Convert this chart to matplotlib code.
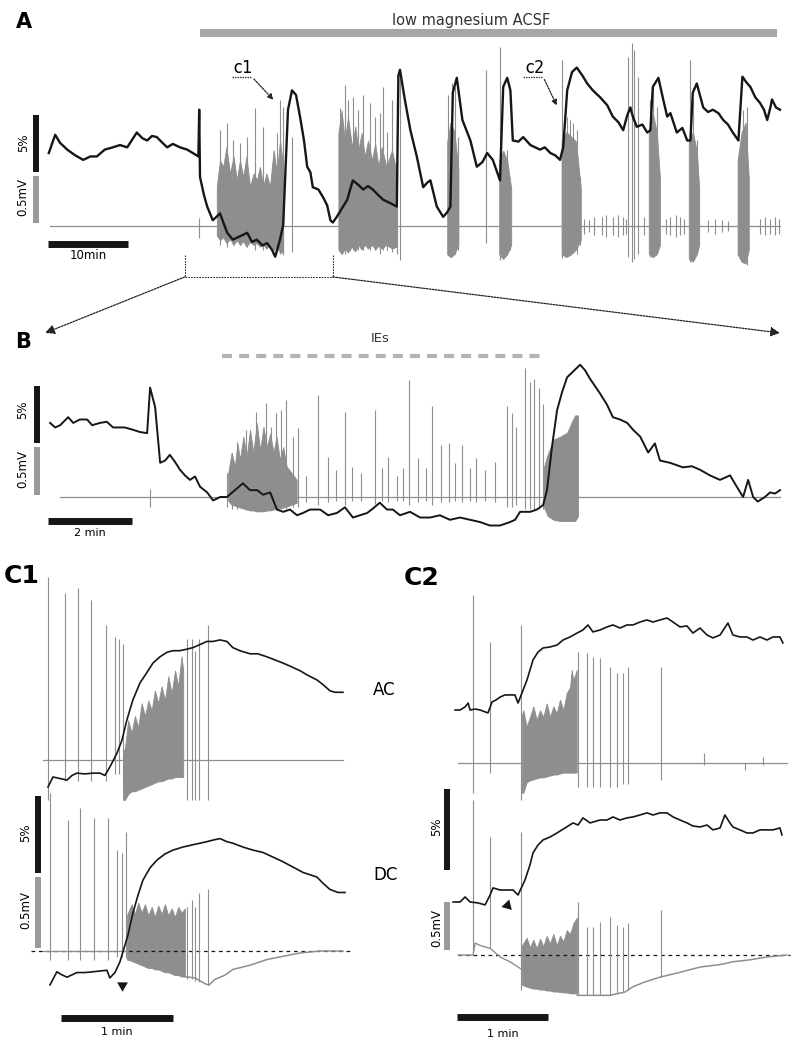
import numpy as np
import matplotlib.pyplot as plt
from matplotlib.patches import ConnectionPatch

# ── colours ────────────────────────────────────────────────
BLACK = "#161616"
GREY = "#8e8e8e"
BAR_GREY = "#a6a6a6"

# ── Panel A: whole recording (t in min, black = %, grey = mV) ──
A_black_t = [0.1, 0.9, 1.5, 2.4, 3.4, 4.4, 5.3, 6.1, 7.1, 8.1,
             9.0, 9.9, 11.1, 11.8, 12.4, 13.0, 13.6, 14.3, 14.9, 15.6,
             16.5, 17.4, 18.1, 18.8, 18.9, 19.0, 19.5, 19.9, 20.6, 21.5,
             22.4, 23.1, 24.0, 24.9, 25.5, 26.1, 26.8, 27.4, 28.0, 28.4,
             29.0, 29.4, 29.6, 30.0, 30.5, 31.0, 31.5, 32.0, 32.4, 32.8,
             33.1, 33.8, 34.4, 34.9, 35.3, 35.6, 36.1, 36.8, 37.4, 38.1,
             38.8, 39.4, 40.0, 40.6, 41.3, 41.9, 42.8, 43.6, 43.8, 44.0,
             44.6, 45.3, 46.1, 46.9, 47.4, 47.8, 48.6, 49.4, 49.9, 50.3,
             50.6, 51.1, 51.8, 52.8, 53.6, 54.3, 54.9, 55.6, 56.5, 56.9,
             57.4, 57.8, 58.1, 58.8, 59.4, 60.3, 61.5, 62.1, 62.8, 63.4,
             64.0, 64.4, 64.9, 65.5, 66.1, 66.8, 67.4, 68.1, 69.0, 69.9,
             70.6, 71.3, 71.9, 72.4, 72.8, 73.1, 73.6, 74.3, 74.9, 75.3,
             75.6, 76.3, 76.9, 77.4, 77.8, 78.6, 79.3, 79.9, 80.3, 80.6,
             81.1, 81.9, 82.5, 83.1, 83.8, 84.4, 85.0, 85.6, 86.3, 86.8,
             87.3, 87.8, 88.4, 89.0, 89.5, 89.9, 90.3, 90.5, 91.0, 91.5]
A_black_v = [6.4, 8.0, 7.3, 6.7, 6.2, 5.8, 6.1, 6.1, 6.7, 6.9,
             7.1, 6.9, 8.2, 7.7, 7.5, 7.9, 7.8, 7.3, 6.9, 7.2,
             6.9, 6.7, 6.4, 6.1, 10.2, 4.3, 2.7, 1.7, 0.5, 1.1,
             -0.6, -1.2, -0.9, -0.6, -1.4, -1.2, -1.7, -1.5, -2.1, -2.7,
             -1.2, 0.1, 3.4, 10.2, 11.9, 11.5, 9.6, 7.5, 5.2, 4.7,
             3.4, 3.2, 2.5, 1.8, 0.5, 0.3, 0.8, 1.6, 2.3, 4.0,
             3.6, 3.2, 3.5, 3.2, 2.7, 2.3, 2.0, 1.7, 13.2, 13.7,
             11.1, 8.4, 6.1, 3.4, 3.8, 4.0, 1.7, 0.8, 1.2, 1.7,
             11.7, 13.0, 9.3, 7.5, 5.2, 5.6, 6.4, 5.8, 4.0, 12.2,
             13.0, 11.9, 7.5, 7.4, 7.8, 7.1, 6.7, 6.9, 6.4, 6.2,
             5.8, 6.9, 11.9, 13.5, 13.9, 13.2, 12.5, 11.9, 11.3, 10.6,
             9.6, 9.1, 8.4, 9.7, 10.4, 9.6, 8.7, 8.9, 8.2, 8.4,
             12.2, 13.0, 11.1, 9.6, 9.9, 8.2, 8.6, 7.5, 7.5, 11.7,
             12.5, 10.4, 10.0, 10.2, 9.9, 9.3, 8.9, 8.2, 7.5, 13.1,
             12.6, 12.2, 11.3, 10.8, 10.2, 9.3, 10.4, 11.1, 10.4, 10.2]

A_base_t = [0.25, 91.5]
A_base_v = [0.0, 0.0]

A_spike_t = [18.9, 21.5, 22.4, 23.1, 24.0, 24.9, 25.9, 26.9, 28.6, 29.0,
             29.4, 30.5, 36.5, 37.1, 37.5, 38.1, 38.8, 39.4, 40.3, 40.9,
             41.5, 41.9, 42.4, 43.0, 43.6, 44.0, 50.0, 50.5, 50.9, 51.3,
             54.8, 56.5, 56.9, 57.4, 57.8, 64.3, 64.9, 65.3, 65.6, 66.1,
             66.5, 72.5, 73.0, 73.3, 73.8, 75.3, 75.6, 76.1, 80.3, 80.6,
             81.1, 86.5, 86.9, 87.4]
A_spike_top = [0.09, 1.02, 1.10, 0.91, 0.88, 0.95, 1.26, 1.05, 0.99, 1.34,
               1.27, 0.95, 1.26, 1.50, 1.34, 1.37, 1.23, 1.39, 1.31, 1.16,
               1.20, 1.48, 1.00, 1.34, 1.45, 1.63, 1.39, 1.52, 1.48, 0.95,
               1.66, 1.90, 0.63, 0.81, 0.41, 1.77, 1.16, 1.13, 1.10, 1.02,
               0.52, 1.80, 1.95, 1.87, 1.59, 1.34, 1.48, 1.27, 1.77, 1.34,
               0.91, 0.78, 1.23, 1.27]
A_spike_bot = [-0.13, -0.20, -0.22, -0.20, -0.20, -0.22, -0.25, -0.25, -0.28, -0.30,
               -0.31, -0.28, -0.26, -0.30, -0.28, -0.26, -0.25, -0.26, -0.26, -0.25,
               -0.30, -0.26, -0.25, -0.28, -0.30, -0.36, -0.31, -0.33, -0.30, -0.25,
               -0.18, -0.36, -0.30, -0.30, -0.25, -0.34, -0.30, -0.30, -0.28, -0.30,
               -0.20, -0.33, -0.38, -0.35, -0.30, -0.33, -0.33, -0.30, -0.38, -0.35,
               -0.30, -0.30, -0.38, -0.41]

A_small_t = [67.0, 67.6, 68.3, 69.2, 69.8, 70.6, 71.2, 71.9, 72.2, 74.5,
             77.2, 77.8, 78.5, 79.0, 79.5, 82.5, 83.4, 84.2, 85.0, 89.0,
             89.6, 90.3, 90.9, 91.4]
A_small_amp = [0.08, 0.06, 0.10, 0.10, 0.12, 0.10, 0.12, 0.10, 0.08, 0.10,
               0.08, 0.10, 0.12, 0.10, 0.08, 0.06, 0.08, 0.06, 0.05, 0.08,
               0.10, 0.08, 0.10, 0.08]

A_burst_t = [[21.1, 21.5, 21.9, 22.3, 22.75, 23.2, 23.6, 24.0, 24.4, 24.8, 25.25,
              25.7, 26.1, 26.5, 26.9, 27.3, 27.75, 28.2, 28.6, 29.0, 29.4],
             [36.3, 36.7, 37.1, 37.5, 38.0, 38.4, 38.8, 39.2, 39.6, 40.0, 40.5,
              40.9, 41.3, 41.7, 42.3, 43.0, 43.6],
             [49.9, 50.3, 50.8, 51.3],
             [56.4, 56.9, 57.4, 57.9],
             [64.2, 64.8, 65.4, 66.0, 66.6],
             [75.1, 75.6, 76.1, 76.5],
             [80.1, 80.6, 81.1, 81.4],
             [86.2, 86.7, 87.2, 87.6]]
A_burst_top = [[0.42, 0.70, 0.63, 0.84, 0.56, 0.74, 0.49, 0.70, 0.52, 0.74, 0.42,
                0.56, 0.49, 0.63, 0.42, 0.56, 0.42, 0.81, 0.56, 0.91, 0.63],
               [0.99, 1.23, 0.91, 1.16, 0.84, 1.06, 0.81, 0.99, 0.74, 0.91, 0.70,
                0.88, 0.63, 0.84, 0.63, 0.81, 0.56],
               [0.90, 1.10, 1.00, 0.60],
               [0.70, 0.80, 0.70, 0.40],
               [0.90, 1.00, 0.95, 0.90, 0.40],
               [1.00, 1.20, 1.00, 0.50],
               [0.90, 1.00, 0.80, 0.40],
               [0.70, 1.00, 1.10, 0.50]]
A_burst_bot = [[-0.10, -0.15, -0.12, -0.18, -0.14, -0.20, -0.15, -0.20, -0.16, -0.22, -0.17,
                -0.20, -0.18, -0.22, -0.20, -0.24, -0.20, -0.26, -0.22, -0.28, -0.28],
               [-0.25, -0.30, -0.24, -0.28, -0.22, -0.27, -0.20, -0.25, -0.20, -0.24, -0.20,
                -0.25, -0.21, -0.24, -0.20, -0.24, -0.22],
               [-0.30, -0.33, -0.30, -0.20],
               [-0.30, -0.35, -0.30, -0.20],
               [-0.30, -0.33, -0.30, -0.25, -0.15],
               [-0.30, -0.33, -0.30, -0.20],
               [-0.35, -0.38, -0.30, -0.20],
               [-0.30, -0.38, -0.40, -0.25]]

LOW_MG_T = [19.0, 91.1]          # low magnesium ACSF application (min)
B_WINDOW_T = [17.1, 35.6]        # stretch of A shown in B (min)

# ── Panel B: zoom of the first event (t in min) ────────────
B_black_t = [0.05, 0.17, 0.29, 0.48, 0.60, 0.76, 0.93, 1.05, 1.24, 1.40,
             1.55, 1.64, 1.83, 2.02, 2.19, 2.36, 2.43, 2.55, 2.67, 2.79,
             2.90, 3.02, 3.14, 3.26, 3.38, 3.50, 3.62, 3.79, 3.93, 4.10,
             4.26, 4.45, 4.64, 4.81, 4.98, 5.12, 5.29, 5.45, 5.60, 5.76,
             5.93, 6.07, 6.24, 6.48, 6.67, 6.88, 7.07, 7.26, 7.43, 7.60,
             7.74, 7.90, 8.07, 8.21, 8.38, 8.62, 8.86, 9.10, 9.33, 9.57,
             9.81, 10.05, 10.29, 10.52, 10.76, 11.00, 11.12, 11.24, 11.48, 11.64,
             11.79, 11.88, 12.00, 12.12, 12.24, 12.36, 12.50, 12.67, 12.79, 12.90,
             13.14, 13.31, 13.45, 13.62, 13.79, 13.93, 14.10, 14.29, 14.45, 14.57,
             14.81, 15.12, 15.33, 15.52, 15.76, 16.00, 16.24, 16.40, 16.55, 16.67,
             16.79, 16.90, 17.07, 17.19, 17.31, 17.43]
B_black_v = [6.5, 6.1, 6.3, 7.0, 6.5, 6.8, 6.8, 6.3, 6.5, 6.6,
             6.1, 6.1, 6.1, 5.9, 5.7, 5.6, 9.6, 7.9, 3.0, 3.2,
             3.7, 3.1, 2.4, 1.9, 1.5, 1.8, 0.9, 0.4, -0.3, 0.0,
             0.0, 0.6, 1.2, 0.6, 0.6, 0.2, 0.4, -1.1, -1.3, -1.1,
             -1.6, -1.4, -1.1, -1.1, -1.6, -1.4, -0.9, -1.8, -1.6, -1.4,
             -1.0, -0.5, -1.1, -1.1, -1.6, -1.3, -1.8, -1.8, -1.6, -2.0,
             -1.8, -2.0, -2.2, -2.5, -2.5, -2.2, -2.0, -1.3, -1.3, -1.1,
             -0.7, 0.6, 4.4, 7.6, 9.2, 10.5, 11.0, 11.6, 11.1, 10.4,
             9.1, 8.1, 7.0, 6.8, 6.5, 5.9, 5.3, 3.9, 4.7, 3.2,
             3.0, 2.6, 2.7, 2.4, 1.9, 1.5, 1.9, 0.9, 0.0, 1.5,
             0.0, -0.4, 0.0, 0.4, 0.3, 0.6]

B_base_t = [0.29, 17.43]
B_base_v = [0.0, 0.0]

B_spike_t = [2.43, 4.26, 4.38, 4.50, 4.71, 4.95, 5.19, 5.31, 5.43, 5.55,
             5.67, 5.83, 5.95, 6.15, 6.43, 6.67, 6.85, 7.07, 7.24, 7.45,
             7.79, 7.95, 8.10, 8.30, 8.45, 8.60, 8.81, 9.00, 9.14, 9.36,
             9.55, 9.70, 9.86, 10.05, 10.19, 10.40, 10.64, 10.93, 11.05, 11.14,
             11.36, 11.48, 11.57, 11.69, 11.79]
B_spike_top = [0.08, 0.25, 0.46, 0.57, 0.70, 0.89, 0.98, 0.73, 0.88, 0.91,
               1.01, 0.63, 0.72, 0.22, 1.06, 0.42, 0.28, 0.89, 0.31, 0.25,
               0.91, 0.30, 0.42, 0.22, 0.30, 1.22, 0.41, 0.30, 0.95, 0.54,
               0.56, 0.35, 0.54, 0.30, 0.41, 0.28, 0.36, 0.95, 0.87, 0.73,
               1.34, 1.20, 1.23, 1.14, 0.97]
B_spike_bot = [-0.10, -0.10, -0.12, -0.12, -0.14, -0.15, -0.15, -0.14, -0.14, -0.13,
               -0.12, -0.10, -0.10, -0.05, -0.08, -0.05, -0.04, -0.08, -0.04, -0.04,
               -0.07, -0.04, -0.05, -0.04, -0.04, -0.08, -0.05, -0.04, -0.08, -0.05,
               -0.05, -0.04, -0.05, -0.04, -0.05, -0.04, -0.05, -0.10, -0.10, -0.08,
               -0.12, -0.12, -0.12, -0.12, -0.12]

B_burst_t = [[4.29, 4.37, 4.45, 4.51, 4.57, 4.65, 4.73, 4.81, 4.89, 4.97, 5.05,
              5.13, 5.21, 5.29, 5.37, 5.44, 5.52, 5.60, 5.68, 5.80, 5.92],
             [11.8, 11.9, 12.05, 12.2, 12.36, 12.47, 12.55, 12.62]]
B_burst_top = [[0.25, 0.46, 0.32, 0.56, 0.39, 0.63, 0.42, 0.70, 0.46, 0.77, 0.49,
                0.73, 0.52, 0.66, 0.46, 0.63, 0.39, 0.52, 0.32, 0.25, 0.18],
               [0.30, 0.45, 0.60, 0.63, 0.67, 0.78, 0.85, 0.85]]
B_burst_bot = [[-0.04, -0.08, -0.09, -0.10, -0.11, -0.12, -0.13, -0.14, -0.14, -0.15, -0.15,
                -0.15, -0.14, -0.14, -0.13, -0.12, -0.12, -0.11, -0.10, -0.08, -0.06],
               [-0.10, -0.20, -0.24, -0.25, -0.25, -0.25, -0.25, -0.20]]

IES_T = [4.14, 11.71]

# ── Panel C1: event c1, AC and DC coupled (t in s) ─────────
C1_ac_black_t = [4.3, 7.0, 10.7, 14.5, 17.2, 19.8, 24.1, 28.4, 32.2, 34.8,
                 37.5, 41.3, 44.0, 46.6, 49.8, 53.6, 57.4, 60.6, 64.3, 68.1,
                 71.3, 75.0, 78.8, 82.0, 85.8, 89.5, 92.7, 96.5, 100.2, 103.4,
                 107.2, 112.6, 116.8, 121.7, 126.0, 130.2, 134.0, 139.4, 143.6, 148.5,
                 151.7, 155.4, 158.1, 162.4]
C1_ac_black_v = [-1.75, -1.1, -1.2, -1.3, -1.0, -0.85, -0.9, -0.85, -0.85, -1.0,
                 -0.45, 0.45, 1.3, 2.6, 3.9, 5.0, 5.7, 6.3, 6.7, 7.0,
                 7.1, 7.1, 7.2, 7.3, 7.5, 7.7, 7.7, 7.8, 7.7, 7.3,
                 7.1, 6.9, 6.9, 6.7, 6.5, 6.3, 6.1, 5.8, 5.5, 5.2,
                 4.9, 4.5, 4.4, 4.4]
C1_dc_black_t = [5.4, 9.1, 11.8, 14.5, 17.2, 19.8, 24.1, 28.4, 32.2, 35.9,
                 37.5, 40.2, 42.9, 44.5, 47.2, 49.8, 52.5, 55.2, 59.0, 62.7,
                 67.0, 71.3, 76.6, 82.0, 85.8, 89.5, 92.7, 96.5, 100.2, 103.4,
                 108.8, 114.2, 119.5, 124.9, 130.2, 135.6, 141.0, 148.5, 151.7, 155.4,
                 159.7, 163.5]
C1_dc_black_v = [-2.2, -1.35, -1.55, -1.7, -1.55, -1.4, -1.4, -1.35, -1.3, -1.25,
                 -1.75, -1.4, -0.7, -0.05, 1.05, 2.45, 3.6, 4.6, 5.4, 5.9,
                 6.3, 6.55, 6.75, 6.9, 7.0, 7.1, 7.2, 7.3, 7.1, 7.0,
                 6.75, 6.55, 6.4, 6.1, 5.8, 5.45, 5.1, 4.8, 4.4, 4.0,
                 3.8, 3.8]

C1_ac_base_t = [1.6, 162.4]
C1_ac_base_v = [0.0, 0.0]
C1_ac_spike_t = [4.3, 13.4, 20.4, 27.3, 35.4, 40.2, 42.3, 44.5, 78.8, 81.5, 83.1, 85.2, 90.0]
C1_ac_spike_top = [1.29, 1.18, 1.21, 1.13, 0.95, 0.87, 0.85, 0.82, 0.85, 0.85, 0.77, 0.85, 0.95]
C1_ac_spike_bot = [-0.28, -0.15, -0.15, -0.15, -0.15, -0.10, -0.10, -0.20, -0.28, -0.28, -0.28, -0.28, -0.28]
C1_ac_burst_t = [44.5, 45.6, 47.3, 49.1, 50.9, 52.7, 54.5, 56.3, 58.1, 59.9, 61.6,
                 63.4, 65.2, 67.0, 68.8, 70.6, 72.4, 74.1, 75.9, 76.8]
C1_ac_burst_top = [0.05, 0.09, 0.28, 0.19, 0.31, 0.23, 0.40, 0.31, 0.42, 0.35, 0.49,
                   0.40, 0.52, 0.42, 0.59, 0.47, 0.63, 0.52, 0.73, 0.63]
C1_ac_burst_bot = [-0.28, -0.28, -0.24, -0.22, -0.22, -0.21, -0.20, -0.19, -0.18, -0.17, -0.16,
                   -0.15, -0.15, -0.14, -0.13, -0.13, -0.12, -0.12, -0.12, -0.12]

C1_dc_pre_t = [1.6, 46.6]
C1_dc_pre_v = [0.0, 0.0]
C1_dc_spike_t = [5.4, 15.0, 21.4, 28.9, 36.4, 41.3, 44.0, 46.1, 78.8, 81.5, 83.1, 85.2, 90.0]
C1_dc_spike_top = [1.11, 0.92, 1.01, 0.94, 0.94, 0.71, 0.69, 0.84, 0.31, 0.36, 0.31, 0.41, 0.44]
C1_dc_spike_bot = [-0.06, -0.06, -0.06, -0.06, -0.06, -0.04, -0.04, -0.05, -0.20, -0.20, -0.21, -0.22, -0.24]
C1_dc_burst_t = [46.6, 49.1, 50.9, 52.7, 54.5, 56.3, 58.1, 59.9, 61.6, 63.4, 65.2,
                 67.0, 68.8, 70.6, 72.4, 74.1, 75.9, 77.7]
C1_dc_burst_top = [0.25, 0.33, 0.26, 0.34, 0.27, 0.33, 0.25, 0.31, 0.24, 0.32, 0.26,
                   0.33, 0.25, 0.30, 0.24, 0.31, 0.27, 0.30]
C1_dc_burst_bot = [-0.06, -0.07, -0.08, -0.09, -0.10, -0.11, -0.12, -0.12, -0.13, -0.13, -0.14,
                   -0.15, -0.15, -0.16, -0.17, -0.17, -0.18, -0.18]
C1_dc_post_t = [77.7, 83.1, 88.4, 90.6, 93.8, 99.2, 103.4, 112.6, 121.7, 131.3, 139.4, 150.1, 162.4]
C1_dc_post_v = [-0.18, -0.19, -0.23, -0.24, -0.20, -0.17, -0.13, -0.10, -0.06, -0.035, -0.014, 0.0, 0.0]

# ── Panel C2: event c2 (t in s) ────────────────────────────
C2_ac_black_t = [3.3, 6.6, 9.9, 11.9, 13.2, 16.5, 19.8, 25.0, 27.7, 30.3,
                 33.0, 36.2, 39.5, 42.8, 44.8, 47.4, 50.7, 54.7, 58.0, 61.3,
                 65.9, 70.5, 74.5, 79.1, 83.7, 87.6, 90.9, 94.2, 98.9, 103.5,
                 107.4, 112.0, 116.6, 120.6, 125.2, 129.8, 133.8, 138.4, 143.0, 147.0,
                 151.6, 156.2, 160.1, 164.8, 169.4, 173.3, 178.0, 183.2, 186.5, 191.1,
                 195.7, 199.7, 204.3, 208.9, 212.9, 217.5, 219.4]
C2_ac_black_v = [3.27, 3.27, 3.46, 3.70, 3.27, 3.33, 3.27, 3.09, 3.77, 3.89,
                 4.07, 4.20, 4.20, 4.20, 3.70, 4.32, 5.12, 6.36, 6.85, 7.10,
                 7.16, 7.28, 7.59, 7.78, 8.02, 8.21, 8.52, 8.09, 8.21, 8.40,
                 8.52, 8.33, 8.52, 8.52, 8.70, 8.83, 8.70, 8.83, 8.95, 8.70,
                 8.40, 8.46, 8.02, 8.33, 7.90, 7.72, 7.90, 8.64, 7.90, 7.78,
                 7.78, 7.59, 7.78, 7.59, 7.78, 7.78, 7.41]
C2_dc_black_t = [2.0, 6.6, 9.9, 13.2, 18.5, 23.1, 26.4, 28.3, 33.0, 37.6,
                 41.5, 44.8, 49.4, 52.7, 54.7, 58.0, 61.3, 65.9, 70.5, 75.8,
                 81.1, 84.4, 87.6, 92.3, 98.9, 103.5, 107.4, 112.0, 116.6, 120.6,
                 125.2, 129.8, 133.8, 138.4, 143.0, 147.0, 151.6, 156.2, 160.1, 164.8,
                 169.4, 173.3, 178.0, 181.2, 184.5, 186.5, 191.1, 195.7, 199.7, 204.3,
                 208.9, 212.9, 217.5, 218.8]
C2_dc_black_v = [3.27, 3.27, 3.58, 3.27, 3.21, 3.09, 3.70, 4.14, 4.01, 4.01,
                 4.01, 3.70, 4.63, 5.56, 6.30, 6.79, 7.10, 7.28, 7.53, 7.84,
                 8.15, 8.02, 8.46, 8.15, 8.33, 8.33, 8.52, 8.33, 8.46, 8.52,
                 8.64, 8.77, 8.64, 8.77, 8.77, 8.52, 8.33, 8.15, 7.96, 7.90,
                 8.02, 7.72, 7.84, 8.64, 8.15, 7.90, 7.72, 7.53, 7.53, 7.72,
                 7.72, 7.72, 7.84, 7.41]

C2_ac_base_t = [5.3, 222.1]
C2_ac_base_v = [0.0, 0.0]
C2_ac_spike_t = [15.2, 26.4, 46.8, 84.4, 90.3, 94.2, 98.9, 105.4, 110.1, 114.0, 117.3, 139.0, 167.4, 194.4, 206.3]
C2_ac_spike_top = [1.75, 1.26, 1.44, 1.16, 1.15, 1.10, 1.09, 1.00, 0.94, 0.94, 1.00, 1.00, 0.10, 0.0, 0.06]
C2_ac_spike_bot = [-0.31, -0.10, -0.39, -0.25, -0.25, -0.25, -0.25, -0.25, -0.25, -0.22, -0.22, -0.18, -0.02, -0.07, -0.02]
C2_ac_burst_t = [47.4, 48.3, 50.5, 52.7, 54.9, 57.1, 59.3, 61.5, 63.7, 65.9, 68.1,
                 70.3, 72.5, 74.7, 76.9, 79.1, 80.2, 81.3, 83.5]
C2_ac_burst_top = [0.50, 0.55, 0.38, 0.48, 0.59, 0.45, 0.55, 0.48, 0.62, 0.48, 0.59,
                   0.52, 0.66, 0.55, 0.73, 0.79, 0.97, 0.86, 0.97]
C2_ac_burst_bot = [-0.31, -0.31, -0.20, -0.18, -0.17, -0.16, -0.15, -0.15, -0.14, -0.13, -0.12,
                   -0.12, -0.11, -0.10, -0.10, -0.10, -0.10, -0.10, -0.10]

C2_dc_pre_t = [5.3, 15.2, 16.5, 19.8, 26.4, 33.0, 39.5, 44.8, 47.4]
C2_dc_pre_v = [0.0, 0.0, 0.125, 0.10, 0.07, -0.02, -0.07, -0.125, -0.15]
C2_dc_spike_t = [15.2, 26.4, 46.8, 84.4, 90.3, 94.2, 98.9, 105.4, 110.1, 114.0, 117.3, 139.0]
C2_dc_spike_top = [1.61, 1.23, 1.28, 0.55, 0.29, 0.29, 0.34, 0.40, 0.31, 0.29, 0.33, 0.47]
C2_dc_spike_bot = [0.0, 0.07, -0.36, -0.42, -0.42, -0.42, -0.42, -0.42, -0.40, -0.38, -0.36, -0.23]
C2_dc_burst_t = [47.4, 50.5, 52.7, 54.9, 57.1, 59.3, 61.5, 63.7, 65.9, 68.1, 70.3,
                 72.5, 74.7, 76.9, 79.1, 81.3, 83.7]
C2_dc_burst_top = [0.10, 0.18, 0.08, 0.16, 0.07, 0.17, 0.09, 0.20, 0.12, 0.22, 0.10,
                   0.20, 0.14, 0.26, 0.22, 0.33, 0.39]
C2_dc_burst_bot = [-0.31, -0.33, -0.34, -0.35, -0.35, -0.36, -0.36, -0.37, -0.37, -0.38, -0.38,
                   -0.385, -0.39, -0.39, -0.40, -0.40, -0.40]
C2_dc_post_t = [83.7, 92.3, 105.4, 115.3, 120.6, 128.5, 138.4, 151.6, 164.8, 177.9, 186.5, 197.7, 208.9, 222.1]
C2_dc_post_v = [-0.42, -0.42, -0.42, -0.385, -0.33, -0.28, -0.23, -0.18, -0.125, -0.10, -0.07, -0.05, -0.02, 0.0]


# ── helpers ────────────────────────────────────────────────
W, H = 800, 1040
fig = plt.figure(figsize=(W / 100, H / 100), dpi=100)


def panel_axes(box, xlim, ylim):
    """Axes placed by pixel box (x0, y0, x1, y1), origin top-left."""
    x0, y0, x1, y1 = box
    ax = fig.add_axes([x0 / W, 1 - y1 / H, (x1 - x0) / W, (y1 - y0) / H])
    ax.set_xlim(*xlim)
    ax.set_ylim(*ylim)
    ax.set_axis_off()
    return ax


def spikes(ax, t, top, bot, off=0.0, lw=0.8):
    ax.vlines(t, np.asarray(bot) + off, np.asarray(top) + off, color=GREY, lw=lw)


def burst(ax, t, top, bot, off=0.0):
    ax.fill_between(t, np.asarray(bot) + off, np.asarray(top) + off,
                    color=GREY, lw=0.6, edgecolor=GREY)


def trace(ax, t, v, off=0.0, color=BLACK, lw=1.3, **kw):
    ax.plot(t, np.asarray(v) + off, color=color, lw=lw, **kw)


def vbar(ax, x, y0, y1, color, lw=4.3):
    ax.plot([x, x], [y0, y1], color=color, lw=lw, solid_capstyle="butt", clip_on=False)


def hbar(ax, x0, x1, y, lw=5.0):
    ax.plot([x0, x1], [y, y], color=BLACK, lw=lw, solid_capstyle="butt", clip_on=False)


def ftext(x, y, s, **kw):
    fig.text(x / W, 1 - y / H, s, **kw)


# ── Panel A ────────────────────────────────────────────────
axA_g = panel_axes((30, 10, 790, 280), (-2.25, 92.75), (-0.574, 2.298))
axA_k = panel_axes((30, 10, 790, 280), (-2.25, 92.75), (-4.74, 18.95))

trace(axA_g, A_base_t, A_base_v, color=GREY, lw=0.9)
for t, top, bot in zip(A_burst_t, A_burst_top, A_burst_bot):
    burst(axA_g, t, top, bot)
spikes(axA_g, A_spike_t, A_spike_top, A_spike_bot)
axA_g.vlines(A_small_t, -np.asarray(A_small_amp), A_small_amp, color=GREY, lw=0.8)
trace(axA_k, A_black_t, A_black_v, lw=1.7)

axA_k.plot(LOW_MG_T, [16.93, 16.93], color=BAR_GREY, lw=5.8, solid_capstyle="butt")
axA_k.text(np.mean(LOW_MG_T) - 2.1, 18.0, "low magnesium ACSF", ha="center", va="center",
           fontsize=10.5, color="#333333")

vbar(axA_k, -1.5, 4.74, 9.74, BLACK)
vbar(axA_g, -1.5, 0.032, 0.532, "#9a9a9a")
axA_k.text(-3.1, 7.28, "5%", rotation=90, ha="center", va="center", fontsize=8.5)
axA_g.text(-3.1, 0.31, "0.5mV", rotation=90, ha="center", va="center", fontsize=8.5)
hbar(axA_k, 0, 10, -1.54)
axA_k.text(5, -2.6, "10min", ha="center", va="center", fontsize=8.5)

# c1 / c2 markers
for lab, tx, ux, tip in [("c1", 24.25, (23.0, 25.5), (28.4, 10.9)),
                         ("c2", 60.75, (59.4, 61.9), (63.75, 10.35))]:
    axA_k.text(tx, 13.9, lab, ha="center", va="center", fontsize=12,
               family="DejaVu Sans Mono")
    axA_k.plot(ux, [13.07, 13.07], color="#333333", lw=0.9, ls=(0, (1.2, 0.8)))
    axA_k.annotate("", xy=tip, xytext=(ux[1], 13.07),
                   arrowprops=dict(arrowstyle="-|>", lw=0.9, ls=(0, (1.5, 1.0)),
                                   color="#222222", mutation_scale=8))

# window of B
dash = (0, (1.5, 1.0))
axA_k.plot([B_WINDOW_T[0]] * 2, [-2.54, -4.47], color="#333333", lw=0.8, ls=dash)
axA_k.plot([B_WINDOW_T[1]] * 2, [-2.54, -4.47], color="#333333", lw=0.8, ls=dash)
axA_k.plot(B_WINDOW_T, [-4.47, -4.47], color="#333333", lw=0.8, ls=dash)

# ── Panel B ────────────────────────────────────────────────
axB_g = panel_axes((30, 295, 790, 545), (-0.429, 17.667), (-0.5, 2.104))
axB_k = panel_axes((30, 295, 790, 545), (-0.429, 17.667), (-4.21, 17.72))

trace(axB_g, B_base_t, B_base_v, color=GREY, lw=0.9)
for t, top, bot in zip(B_burst_t, B_burst_top, B_burst_bot):
    burst(axB_g, t, top, bot)
spikes(axB_g, B_spike_t, B_spike_top, B_spike_bot)
trace(axB_k, B_black_t, B_black_v, lw=1.4)

axB_k.plot(IES_T, [12.37, 12.37], color="#b4b4b4", lw=3.0, ls=(0, (2.4, 1.7)))
axB_k.text(7.9, 13.9, "IEs", ha="center", va="center", fontsize=9.5, color="#333333")

vbar(axB_k, -0.27, 4.74, 9.74, BLACK)
vbar(axB_g, -0.27, 0.02, 0.52, "#9a9a9a")
axB_k.text(-0.6, 7.63, "5%", rotation=90, ha="center", va="center", fontsize=8.5)
axB_g.text(-0.6, 0.29, "0.5mV", rotation=90, ha="center", va="center", fontsize=8.5)
hbar(axB_k, 0, 2, -2.1)
axB_k.text(1, -3.2, "2 min", ha="center", va="center", fontsize=8)

# arrows from the A window to B
for xa, xb in [(B_WINDOW_T[0], -0.07), (B_WINDOW_T[1], 17.43)]:
    con = ConnectionPatch(xyA=(xa, -4.47), coordsA=axA_k.transData,
                          xyB=(xb, 14.39), coordsB=axB_k.transData,
                          arrowstyle="-|>", lw=0.9, ls=(0, (1.5, 1.0)),
                          color="#222222", mutation_scale=14)
    fig.add_artist(con)

# ── Panel C1 ───────────────────────────────────────────────
C1_AC_K, C1_AC_G = 12.40, 1.345   # vertical offsets of the AC rows
axC1_g = panel_axes((0, 560, 395, 1040), (-21.4, 190.3), (-0.627, 2.754))
axC1_k = panel_axes((0, 560, 395, 1040), (-21.4, 190.3), (-5.78, 25.39))

trace(axC1_g, C1_ac_base_t, C1_ac_base_v, off=C1_AC_G, color=GREY, lw=0.9)
burst(axC1_g, C1_ac_burst_t, C1_ac_burst_top, C1_ac_burst_bot, off=C1_AC_G)
spikes(axC1_g, C1_ac_spike_t, C1_ac_spike_top, C1_ac_spike_bot, off=C1_AC_G)
axC1_g.plot([-5, 168], [0, 0], color=BLACK, lw=0.9, ls=(0, (3, 3)))
trace(axC1_g, C1_dc_pre_t, C1_dc_pre_v, color=GREY, lw=0.9)
burst(axC1_g, C1_dc_burst_t, C1_dc_burst_top, C1_dc_burst_bot)
spikes(axC1_g, C1_dc_spike_t, C1_dc_spike_top, C1_dc_spike_bot)
trace(axC1_g, C1_dc_post_t, C1_dc_post_v, color=GREY, lw=1.1)
trace(axC1_k, C1_ac_black_t, C1_ac_black_v, off=C1_AC_K, lw=1.2)
trace(axC1_k, C1_dc_black_t, C1_dc_black_v, lw=1.2)
axC1_k.plot([44.0], [-2.2], marker=(3, 0, 180), ms=9, color=BLACK, mew=0)

vbar(axC1_k, -1.07, 5.06, 10.06, BLACK)
vbar(axC1_g, -1.07, 0.02, 0.52, "#9a9a9a")
axC1_k.text(-7.5, 7.66, "5%", rotation=90, ha="center", va="center", fontsize=8.5)
axC1_g.text(-7.5, 0.29, "0.5mV", rotation=90, ha="center", va="center", fontsize=8.5)
hbar(axC1_k, 11.3, 71.3, -4.35)
axC1_k.text(41.3, -5.26, "1 min", ha="center", va="center", fontsize=8)
axC1_k.text(178.5, 16.95, "AC", ha="left", va="center", fontsize=12)
axC1_k.text(178.5, 4.94, "DC", ha="left", va="center", fontsize=12)

# ── Panel C2 ───────────────────────────────────────────────
C2_AC_K, C2_AC_G = 11.85, 2.0
axC2_g = panel_axes((405, 560, 800, 1040), (-29.7, 230.7), (-0.885, 4.115))
axC2_k = panel_axes((405, 560, 800, 1040), (-29.7, 230.7), (-5.25, 24.38))

trace(axC2_g, C2_ac_base_t, C2_ac_base_v, off=C2_AC_G, color=GREY, lw=0.9)
burst(axC2_g, C2_ac_burst_t, C2_ac_burst_top, C2_ac_burst_bot, off=C2_AC_G)
spikes(axC2_g, C2_ac_spike_t, C2_ac_spike_top, C2_ac_spike_bot, off=C2_AC_G)
axC2_g.plot([5.3, 224], [0, 0], color=BLACK, lw=0.9, ls=(0, (3, 3)))
trace(axC2_g, C2_dc_pre_t, C2_dc_pre_v, color=GREY, lw=1.0)
burst(axC2_g, C2_dc_burst_t, C2_dc_burst_top, C2_dc_burst_bot)
spikes(axC2_g, C2_dc_spike_t, C2_dc_spike_top, C2_dc_spike_bot)
trace(axC2_g, C2_dc_post_t, C2_dc_post_v, color=GREY, lw=1.1)
trace(axC2_k, C2_ac_black_t, C2_ac_black_v, off=C2_AC_K, lw=1.2)
trace(axC2_k, C2_dc_black_t, C2_dc_black_v, lw=1.2)
axC2_k.plot([37.6], [3.09], marker=(3, 0, 104), ms=9, color=BLACK, mew=0)

vbar(axC2_k, -2.3, 5.25, 10.25, BLACK)
vbar(axC2_g, -2.3, 0.05, 0.55, "#9a9a9a")
axC2_k.text(-8.6, 7.9, "5%", rotation=90, ha="center", va="center", fontsize=8.5)
axC2_g.text(-8.6, 0.28, "0.5mV", rotation=90, ha="center", va="center", fontsize=8.5)
hbar(axC2_k, 4.6, 64.6, -3.83)
axC2_k.text(34.6, -4.88, "1 min", ha="center", va="center", fontsize=8)

# ── panel letters ──────────────────────────────────────────
ftext(16, 22, "A", fontsize=15, fontweight="bold", va="center")
ftext(15, 342, "B", fontsize=15, fontweight="bold", va="center")
ftext(4, 576, "C1", fontsize=18, fontweight="bold", va="center")
ftext(404, 578, "C2", fontsize=18, fontweight="bold", va="center")

fig.savefig("out.png", dpi=100)
